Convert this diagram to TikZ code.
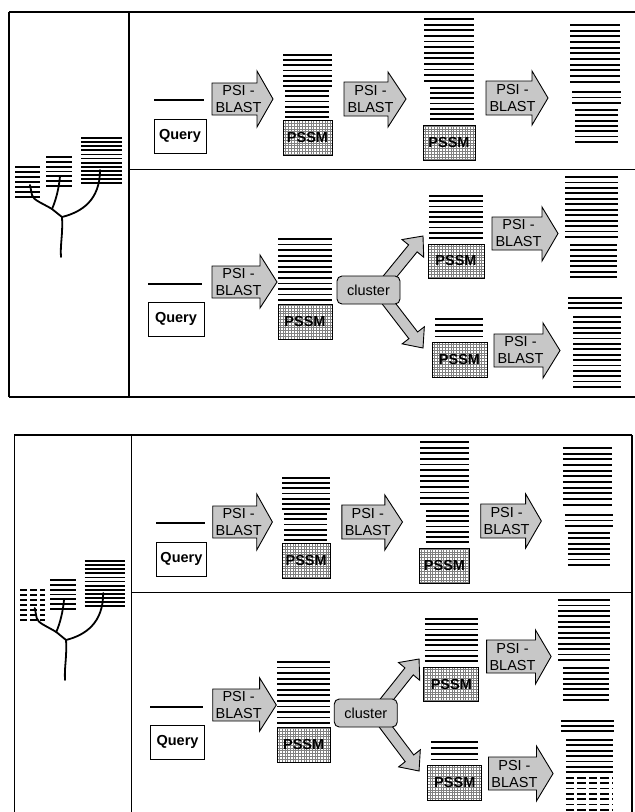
\documentclass[tikz,border=0pt]{standalone}
\usepackage{fontspec}
\setmainfont{Liberation Sans}
\usetikzlibrary{calc}
\tikzset{
  seqline/.style={line width=1.8pt},
  frame/.style={line width=1.3pt},
  branch/.style={line width=1.8pt, line cap=round, line join=round},
  blockarr/.style={draw, fill=black!22, line width=0.9pt, line join=miter},
  psitext/.style={align=center, font=\fontsize{14.5}{17}\selectfont, inner sep=0pt},
  boldtext/.style={font=\fontsize{14.5}{17}\selectfont\bfseries, inner sep=0pt},
  boxframe/.style={draw, line width=1pt},
  dashseq/.style={dash pattern=on 7pt off 3pt},
  dashseqb/.style={dash pattern=on 8.5pt off 3pt},
  clusterbox/.style={draw, fill=black!22, rounded corners=5pt, line width=0.9pt,
    minimum width=63pt, minimum height=28pt, inner sep=0pt,
    font=\fontsize{14.5}{17}\selectfont},
}
% stack of sequence lines: [style]{x1}{x2}{y0}{n}{spacing}
\newcommand\seqstack[6][]{%
  \foreach \k in {1,...,#5}
    \draw[seqline,#1] (#2,{#4+(\k-1)*#6}) -- (#3,{#4+(\k-1)*#6});
}
% block arrow: {name}{xl}{bodytop}{bodybottom}{neck x}{headtop}{headbottom}{tip x}
\newcommand\psiarrow[8]{%
  \draw[blockarr] (#2,#3) -- (#5,#3) -- (#5,#6) -- (#8,{(#3+#4)/2}) -- (#5,#7)
    -- (#5,#4) -- (#2,#4) -- cycle;
  \node[psitext] (#1) at ({#2+26.5},{(#3+#4)/2}) {PSI -\\BLAST};
}
% PSSM box: {name}{x1}{y1}{x2}{y2}
\newcommand\pssmbox[5]{%
  \fill[white] (#2,#3) rectangle (#4,#5);
  \draw[black!50, line width=0.35pt, step=2.8pt] (#2,#3) grid (#4,#5);
  \draw[line width=1pt] (#2,#3) rectangle (#4,#5);
  \node[boldtext] (#1) at ({(#2+#4)/2},{(#3+#5)/2}) {PSSM};
}
% Query box: {name}{x1}{y1}{x2}{y2}
\newcommand\querybox[5]{%
  \draw[line width=1pt] (#2,#3) rectangle (#4,#5);
  \node[boldtext] (#1) at ({(#2+#4)/2},{(#3+#5)/2}) {Query};
}
% diagonal block arrow: {name}{start}{tip}
\newcommand\diagarrow[3]{%
  \coordinate (#1s) at #2;
  \coordinate (#1t) at #3;
  \coordinate (#1h) at ($(#1t)!16pt!(#1s)$);
  \draw[blockarr] (#1t) -- ($(#1h)!14pt!90:(#1t)$) -- ($(#1h)!5.5pt!90:(#1t)$)
    -- ($(#1s)!5.5pt!90:(#1t)$) -- ($(#1s)!5.5pt!-90:(#1t)$)
    -- ($(#1h)!5.5pt!-90:(#1t)$) -- ($(#1h)!14pt!-90:(#1t)$) -- cycle;
}
\newcommand\panelbody[1]{%
  \ifnum#1=0 \def\pnlR{635}\def\pnlB{397}\else \def\pnlR{640.7}\def\pnlB{389}\fi
  % frame
  \draw[frame] (9,12) -- (\pnlR,12);
  \draw[frame] (9,12) -- (9,\pnlB);
  \draw[frame] (129,12) -- (129,\pnlB);
  \draw[frame] (129,169.5) -- (\pnlR,169.5);
  \ifnum#1=0 \draw[frame] (9,397) -- (635,397);\else \draw[frame] (\pnlR,12) -- (\pnlR,\pnlB);\fi
  % tree
  \ifnum#1=1 \seqstack[dashseq]{15}{40}{167}{7}{5}\else \seqstack{15}{40}{167}{7}{5}\fi
  \seqstack{46}{72}{157}{7}{4.8}
  \seqstack{81}{122}{138}{12}{4.1}
  \draw[branch] (62,217) .. controls (63,235) and (60,245) .. (61,257);
  \draw[branch] (62,217) -- (52,209);
  \draw[branch] (52,209) .. controls (42,203) and (33,200) .. (32,195) -- (30,185);
  \draw[branch] (52,209) .. controls (56,200) and (59,188) .. (60,176);
  \draw[branch] (62,217) .. controls (82,212) and (100,200) .. (100,170);
  % row 1
  \draw[seqline] (154,100) -- (204,100);
  \querybox{queryA#1}{154}{119}{206}{153}
  \psiarrow{psiA#1}{212}{83}{115}{257}{71}{127}{273}
  \seqstack{283}{332}{55}{7}{5.17}
  \seqstack{285}{329}{91.2}{6}{5.17}
  \pssmbox{pssmA#1}{283}{120}{332}{155}
  \psiarrow{psiB#1}{344}{82}{116}{388}{72}{127}{406}
  \seqstack{424}{474}{19}{12}{5.6}
  \seqstack{430}{474}{88}{7}{5.17}
  \pssmbox{pssmB#1}{423}{125}{475}{160}
  \psiarrow{psiC#1}{486}{81}{115}{532}{71}{125}{548}
  \seqstack{570}{620}{25}{11}{5.67}
  \seqstack{572}{621}{91.7}{3}{5.8}
  \seqstack{575}{618}{110}{7}{5.3}
  % row 2
  \draw[seqline] (148,284) -- (202,284);
  \querybox{queryB#1}{148}{302}{204}{336}
  \psiarrow{psiD#1}{212}{266}{298}{260}{255}{308}{277}
  \seqstack{278}{332}{239}{12}{5.55}
  \pssmbox{pssmC#1}{278}{304}{332}{339}
  \diagarrow{up#1}{(383,285)}{(423,236)}
  \diagarrow{dn#1}{(383,296)}{(423,348)}
  \node[clusterbox] (cluster#1) at (368.5,290) {cluster};
  \seqstack{429}{483}{196}{9}{5.25}
  \pssmbox{pssmD#1}{428}{244}{484}{278}
  \psiarrow{psiE#1}{492}{217}{250}{542}{207}{261}{558}
  \seqstack{565}{618}{177}{12}{5.45}
  \seqstack{570}{617}{245}{7}{5.33}
  \seqstack{435}{483}{319}{4}{5.8}
  \pssmbox{pssmE#1}{432}{342}{487}{377}
  \psiarrow{psiF#1}{494}{334}{367}{543}{323}{378}{560}
  \seqstack{568}{622}{298}{3}{5}
  \seqstack{573}{621}{317}{7}{5.38}
  \ifnum#1=1 \seqstack[dashseqb]{573}{621}{354.66}{7}{5.38}\else \seqstack{573}{621}{354.66}{7}{5.38}\fi
}
\begin{document}
\begin{tikzpicture}[x=1pt, y=-1pt]
  \useasboundingbox (0,0) rectangle (635,812);
  \fill[white] (0,0) rectangle (635,812);
  \panelbody{0}
  \begin{scope}[shift={(5.4,423)}, xscale=0.978]
    \panelbody{1}
  \end{scope}
\end{tikzpicture}
\end{document}
